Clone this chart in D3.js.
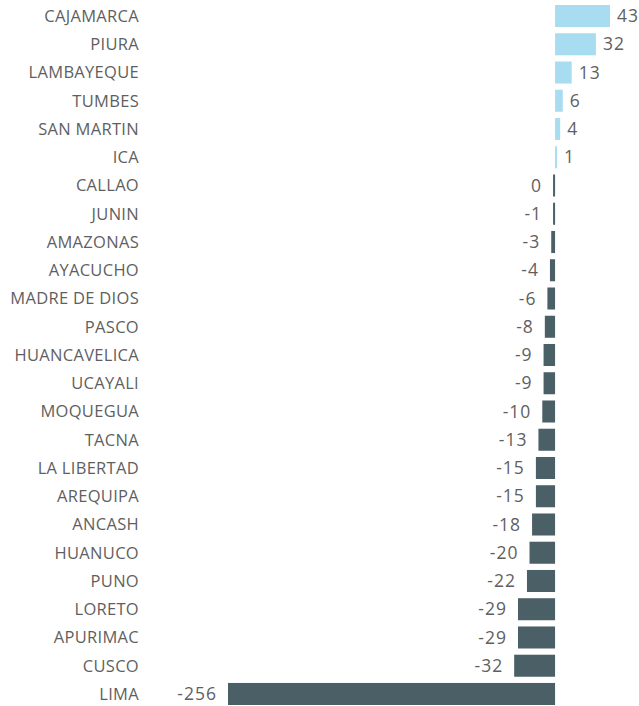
<!DOCTYPE html>
<html>
<meta charset="utf-8">
<head>
	<title>regiones</title>
	<script src="https://cdn.jsdelivr.net/npm/d3@7"></script>
	<style>
		body { margin: 0; background: #fff; }
		text { font-family: "Open Sans", "Noto Sans", sans-serif; fill: #5f5f5f; }
	</style>
</head>
<body>
	<script type="text/javascript">
		var regions = ['CAJAMARCA', 'PIURA', 'LAMBAYEQUE', 'TUMBES', 'SAN MARTIN', 'ICA', 'CALLAO', 'JUNIN',
			'AMAZONAS', 'AYACUCHO', 'MADRE DE DIOS', 'PASCO', 'HUANCAVELICA', 'UCAYALI', 'MOQUEGUA', 'TACNA',
			'LA LIBERTAD', 'AREQUIPA', 'ANCASH', 'HUANUCO', 'PUNO', 'LORETO', 'APURIMAC', 'CUSCO', 'LIMA'];
		var values = [43, 32, 13, 6, 4, 1, 0, -1, -3, -4, -6, -8, -9, -9, -10, -13, -15, -15, -18, -20, -22, -29, -29, -32, -256];

		var width = 639, height = 706;
		var svg = d3.select('body').append('svg')
			.attr('width', width)
			.attr('height', height);

		var x = d3.scaleLinear().domain([-256, 43]).range([228, 610]);
		var y = d3.scaleBand().domain(regions).range([1.9, 708.1])
			.paddingInner(0.22).paddingOuter(0.11);

		var rows = regions.map(function(r, i) { return {name: r, value: values[i]}; });
		var barW = function(d) { return Math.max(2, Math.abs(x(d.value) - x(0))); };

		// category labels
		svg.selectAll('.lab').data(rows).enter().append('text')
			.attr('x', 139)
			.attr('y', function(d) { return y(d.name) + y.bandwidth() / 2; })
			.attr('dy', '0.35em')
			.attr('text-anchor', 'end')
			.style('font-size', '16.5px')
			.style('letter-spacing', '0.3px')
			.text(function(d) { return d.name; });

		// bars
		svg.selectAll('.bar').data(rows).enter().append('rect')
			.attr('x', function(d) { return d.value > 0 ? x(0) : x(0) - barW(d); })
			.attr('y', function(d) { return y(d.name); })
			.attr('width', barW)
			.attr('height', y.bandwidth())
			.attr('fill', function(d) { return d.value > 0 ? '#a8dcf1' : '#4b6066'; });

		// value labels
		svg.selectAll('.val').data(rows).enter().append('text')
			.attr('x', function(d) { return d.value > 0 ? x(0) + barW(d) + 7 : x(0) - barW(d) - 11; })
			.attr('y', function(d) { return y(d.name) + y.bandwidth() / 2; })
			.attr('dy', '0.35em')
			.attr('text-anchor', function(d) { return d.value > 0 ? 'start' : 'end'; })
			.style('font-size', '17.5px')
			.style('letter-spacing', '1px')
			.text(function(d) { return d.value; });
	</script>
</body>
</html>
